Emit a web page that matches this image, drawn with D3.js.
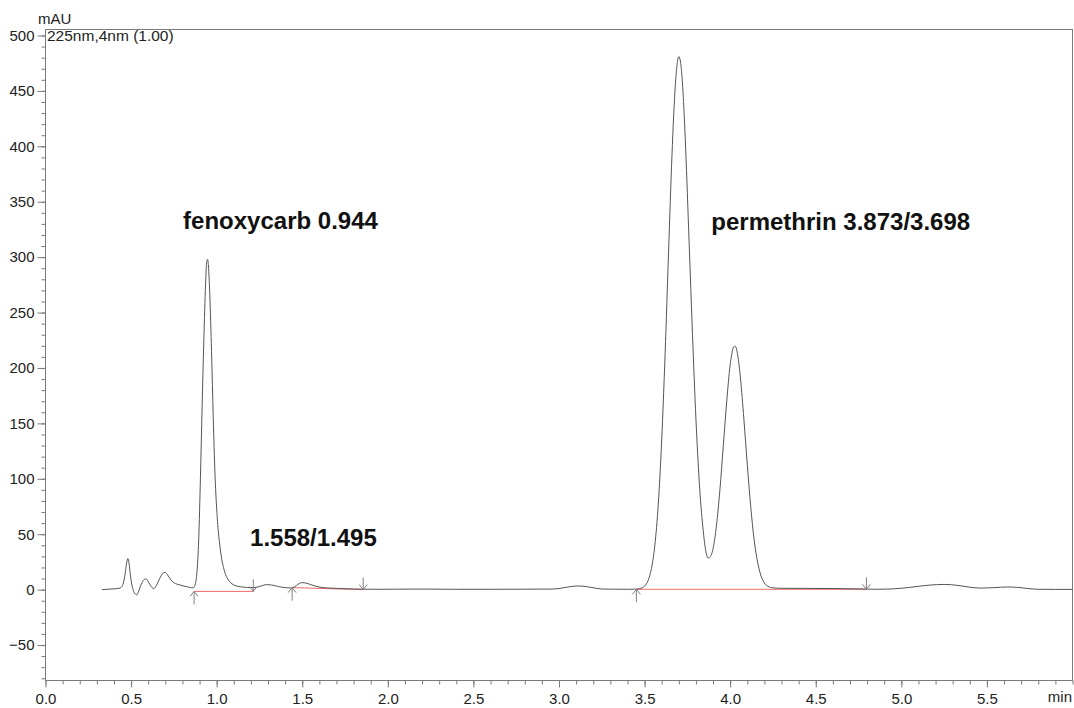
<!DOCTYPE html>
<html>
<head>
<meta charset="utf-8">
<script src="https://cdn.jsdelivr.net/npm/d3@7"></script>
<style>
  html, body { margin: 0; padding: 0; background: #fff; }
  svg { display: block; font-family: "Liberation Sans", Arial, sans-serif; }
</style>
</head>
<body>
<svg id="chart" width="1074" height="708"></svg>
<script>
// Detector trace, 225 nm: retention time (min) and absorbance (mAU)
const retentionTime = [
  0.33, 0.36, 0.40, 0.43, 0.445, 0.455, 0.465, 0.474, 0.481, 0.488, 0.496, 0.505, 0.515, 0.525, 0.533,
  0.542, 0.552, 0.565, 0.577, 0.587, 0.598, 0.61, 0.622, 0.632, 0.642, 0.655, 0.67, 0.685, 0.698, 0.71,
  0.725, 0.74, 0.76, 0.785, 0.81, 0.835, 0.855, 0.865, 0.875, 0.885, 0.895, 0.905, 0.915, 0.925, 0.935,
  0.942, 0.947, 0.952, 0.96, 0.97, 0.98, 0.99, 1.00, 1.01, 1.02, 1.03, 1.04, 1.05, 1.065, 1.08,
  1.10, 1.13, 1.16, 1.20, 1.23, 1.26, 1.29, 1.32, 1.36, 1.40, 1.43, 1.455, 1.475, 1.497, 1.52,
  1.55, 1.58, 1.61, 1.66, 1.72, 1.80, 1.86, 1.95, 2.05, 2.2, 2.4, 2.6, 2.8, 2.95, 3.00,
  3.04, 3.08, 3.11, 3.14, 3.18, 3.22, 3.26, 3.32, 3.40, 3.44, 3.46, 3.48, 3.50, 3.52, 3.54,
  3.56, 3.58, 3.60, 3.62, 3.64, 3.66, 3.67, 3.68, 3.69, 3.70, 3.71, 3.72, 3.73, 3.74, 3.76,
  3.78, 3.80, 3.82, 3.84, 3.86, 3.87, 3.88, 3.90, 3.92, 3.94, 3.96, 3.98, 3.99, 4.00, 4.01,
  4.02, 4.03, 4.04, 4.05, 4.06, 4.08, 4.10, 4.12, 4.14, 4.16, 4.18, 4.20, 4.22, 4.25, 4.30,
  4.45, 4.60, 4.78, 4.85, 4.92, 5.00, 5.08, 5.16, 5.25, 5.32, 5.40, 5.46, 5.54, 5.62, 5.68,
  5.74, 5.80, 5.90, 6.00
];
const absorbance = [
  0.0, 0.3, 0.7, 1.2, 2.5, 6, 14, 24, 28, 24, 13, 4, -1.5, -4, -4.8,
  -2.5, 2, 6.5, 9.2, 9.6, 7.8, 4.5, 1.8, 0.8, 2.2, 6, 11, 14.6, 15.6, 14,
  10.5, 7.5, 5.4, 4.2, 3.2, 2.3, 1.7, 1.8, 5, 16, 45, 100, 165, 225, 275,
  296, 298, 292, 265, 215, 155, 105, 73, 52, 38, 27, 20, 14.5, 9.5, 6.5,
  4.2, 2.8, 2.2, 1.8, 2.0, 3.3, 4.5, 4.2, 2.8, 1.8, 1.5, 2.5, 4.8, 6.3, 6.0,
  4.5, 3.0, 2.0, 1.4, 1.0, 0.6, 0.4, 0.3, 0.4, 0.5, 0.3, 0.3, 0.4, 0.5, 1.0,
  2.0, 3.0, 3.3, 3.1, 2.2, 1.1, 0.5, 0.4, 0.3, 0.4, 0.6, 1.3, 3.2, 8, 19,
  40, 77, 135, 213, 304, 392, 428, 456, 474, 481, 476, 460, 433, 398, 314,
  230, 154, 96, 57, 33, 28.5, 29, 37, 58, 90, 130, 170, 188, 203, 213,
  219, 219.6, 215, 205, 191, 154, 113, 75, 45, 25, 12.5, 6, 3, 1.6, 1.2,
  1.1, 1.0, 0.6, 0.3, 0.5, 1.2, 2.6, 4.0, 4.7, 4.0, 2.2, 1.4, 1.8, 2.4, 2.0,
  1.0, 0.3, 0.2, 0.2
];

// Integration baselines (start / end of each integrated region)
const integrationStartTime = [0.868, 1.441, 3.452];
const integrationStartMAU  = [-1.6, 1.8, 0.3];
const integrationEndTime   = [1.214, 1.856, 4.796];
const integrationEndMAU    = [-1.6, 0.0, 0.3];

// Axis ticks
const yTickValues = [-50, 0, 50, 100, 150, 200, 250, 300, 350, 400, 450, 500];
const xTickValues = [0.0, 0.5, 1.0, 1.5, 2.0, 2.5, 3.0, 3.5, 4.0, 4.5, 5.0, 5.5];

// Peak annotations
const peakLabels = ["fenoxycarb 0.944", "1.558/1.495", "permethrin 3.873/3.698"];

(function drawChromatogram() {
  const svg = d3.select("#chart");
  const plotLeft = 45.5, plotRight = 1072.5, plotTop = 29.5, plotBottom = 680.5;

  const x = d3.scaleLinear().domain([0, 6]).range([plotLeft, plotRight]);
  const y = d3.scaleLinear().domain([-82, 505.4]).range([plotBottom, plotTop]);

  const axisColor = "#7a7a7a";
  const textColor = "#222";

  // Minor / major ticks on the time axis
  const xMinor = d3.range(0, 61).map(i => i / 10);
  const gxMinor = svg.append("g").attr("transform", `translate(0,${plotBottom})`)
    .call(d3.axisBottom(x).tickValues(xMinor).tickSize(4).tickFormat(""));
  const gx = svg.append("g").attr("transform", `translate(0,${plotBottom})`)
    .call(d3.axisBottom(x).tickValues(xTickValues).tickSize(7).tickPadding(6)
      .tickFormat(d3.format(".1f")));

  // Minor / major ticks on the absorbance axis
  const yMinor = d3.range(-8, 51).map(i => i * 10);
  const gyMinor = svg.append("g").attr("transform", `translate(${plotLeft},0)`)
    .call(d3.axisLeft(y).tickValues(yMinor).tickSize(4).tickFormat(""));
  const gy = svg.append("g").attr("transform", `translate(${plotLeft},0)`)
    .call(d3.axisLeft(y).tickValues(yTickValues).tickSize(8).tickPadding(3));

  [gxMinor, gx, gyMinor, gy].forEach(g => {
    g.select(".domain").remove();
    g.selectAll(".tick line").attr("stroke", axisColor);
    g.selectAll(".tick text").attr("fill", textColor).style("font-size", "15px")
      .style("font-family", '"Liberation Sans", Arial, sans-serif');
  });

  // Plot frame
  svg.append("rect")
    .attr("x", plotLeft).attr("y", plotTop)
    .attr("width", plotRight - plotLeft).attr("height", plotBottom - plotTop)
    .attr("fill", "none").attr("stroke", axisColor).attr("stroke-width", 1);

  // Axis titles and detector info
  svg.append("text").attr("x", 38).attr("y", 24)
    .attr("fill", textColor).style("font-size", "15px").text("mAU");
  svg.append("text").attr("x", 47).attr("y", 41)
    .attr("fill", textColor).style("font-size", "15.5px").text("225nm,4nm (1.00)");
  svg.append("text").attr("x", plotRight - 0.5).attr("y", 702)
    .attr("text-anchor", "end")
    .attr("fill", textColor).style("font-size", "15px").text("min");

  // Integration baselines
  svg.append("g").selectAll("line")
    .data(integrationStartTime)
    .join("line")
    .attr("x1", d => x(d)).attr("y1", (d, i) => y(integrationStartMAU[i]))
    .attr("x2", (d, i) => x(integrationEndTime[i])).attr("y2", (d, i) => y(integrationEndMAU[i]))
    .attr("stroke", "#f06a6a").attr("stroke-width", 1);

  // Chromatogram
  const trace = retentionTime.map((t, i) => [t, absorbance[i]]);
  svg.append("path")
    .datum(trace)
    .attr("fill", "none")
    .attr("stroke", "#555")
    .attr("stroke-width", 1)
    .attr("d", d3.line().x(d => x(d[0])).y(d => y(d[1])).curve(d3.curveMonotoneX));

  // Peak start (up) and end (down) markers
  const markers = svg.append("g").attr("stroke", "#808080").attr("fill", "none").attr("stroke-width", 1);
  integrationStartTime.forEach((t, i) => {
    const px = x(t), py = y(integrationStartMAU[i]);
    markers.append("path")
      .attr("d", `M${px},${py + 13}L${px},${py}M${px - 4},${py + 5}L${px},${py}L${px + 4},${py + 5}`);
  });
  integrationEndTime.forEach((t, i) => {
    const px = x(t), py = y(integrationEndMAU[i]);
    markers.append("path")
      .attr("d", `M${px},${py - 12}L${px},${py}M${px - 4},${py - 5}L${px},${py}L${px + 4},${py - 5}`);
  });

  // Peak annotations
  const labelAnchors = [[0.804, 325.8], [1.195, 39.8], [3.890, 324.5]];
  svg.append("g").selectAll("text")
    .data(peakLabels)
    .join("text")
    .attr("x", (d, i) => x(labelAnchors[i][0]))
    .attr("y", (d, i) => y(labelAnchors[i][1]))
    .attr("fill", "#111")
    .style("font-size", "24px")
    .style("font-weight", "bold")
    .text(d => d);
})();
</script>
</body>
</html>
